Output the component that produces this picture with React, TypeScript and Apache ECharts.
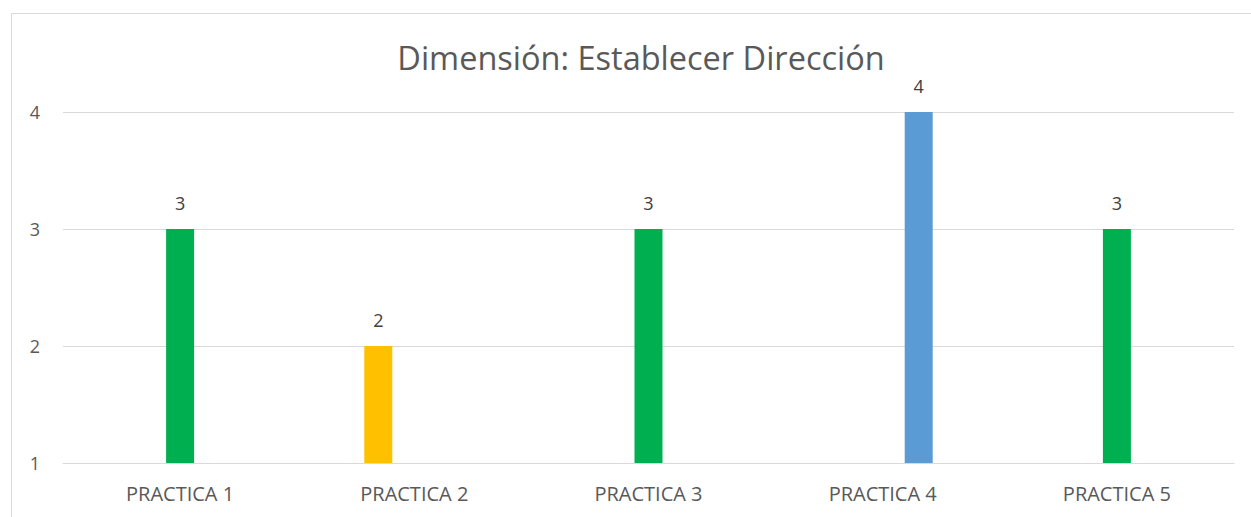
import React, { useEffect, useRef } from "react";
import * as echarts from "echarts";

const categories = ["PRACTICA 1", "PRACTICA 2", "PRACTICA 3", "PRACTICA 4", "PRACTICA 5"];
const yellowValues = [null, 2, null, null, null];
const greenValues = [3, null, 3, null, 3];
const blueValues = [null, null, null, 4, null];
const titleText = "Dimensión: Establecer Dirección";

export default function App() {
  const ref = useRef<HTMLDivElement>(null);
  useEffect(() => {
    if (!ref.current) return;
    const chart = echarts.init(ref.current, null, { renderer: "svg" });
    const font = "'Open Sans', 'Liberation Sans', sans-serif";
    const label = {
      show: true,
      position: "top",
      distance: 17,
      color: "#404040",
      fontSize: 18,
      fontFamily: font,
    };
    chart.setOption({
      animation: false,
      textStyle: { fontFamily: font },
      title: {
        text: titleText,
        left: 636,
        textAlign: "center",
        top: 36,
        textStyle: { fontFamily: font, fontSize: 32.5, fontWeight: "normal", color: "#595959" },
      },
      graphic: [
        {
          type: "rect",
          shape: { x: 11.5, y: 13.5, width: 1300, height: 600 },
          style: { fill: "none", stroke: "#d9d9d9", lineWidth: 1 },
          silent: true,
        },
      ],
      grid: { left: 63, right: 17, top: 112, bottom: 54 },
      xAxis: {
        type: "category",
        data: categories,
        axisLine: { show: true, lineStyle: { color: "#d9d9d9", width: 1 } },
        axisTick: { show: false },
        axisLabel: { color: "#595959", fontSize: 20, margin: 20, fontFamily: font },
      },
      yAxis: {
        type: "value",
        min: 1,
        max: 4,
        interval: 1,
        axisLine: { show: false },
        axisTick: { show: false },
        splitLine: { lineStyle: { color: "#d9d9d9", width: 1 } },
        axisLabel: { color: "#595959", fontSize: 18, margin: 23, fontFamily: font },
      },
      series: [
        {
          type: "bar",
          name: "Amarillo",
          barWidth: 28,
          barGap: "28.6%",
          data: yellowValues,
          itemStyle: { color: "#FFC000" },
          label,
        },
        {
          type: "bar",
          name: "Verde",
          barWidth: 28,
          barGap: "28.6%",
          data: greenValues,
          itemStyle: { color: "#00B050" },
          label,
        },
        {
          type: "bar",
          name: "Azul",
          barWidth: 28,
          barGap: "28.6%",
          data: blueValues,
          itemStyle: { color: "#5B9BD5" },
          label,
        },
      ],
    });
    return () => chart.dispose();
  }, []);
  return (
    <div
      ref={ref}
      style={{ position: "fixed", left: 0, top: 0, width: 1251, height: 517, background: "#fff" }}
    />
  );
}
